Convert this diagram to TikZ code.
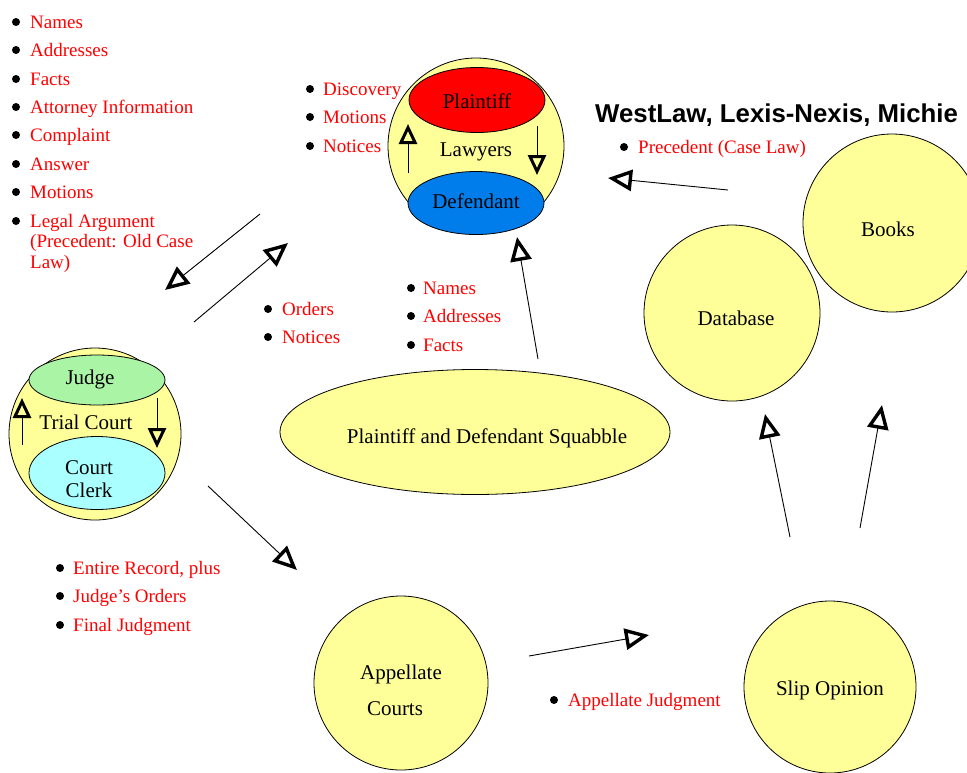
\documentclass[tikz,border=0pt]{standalone}
\usepackage{fontspec}
\setmainfont{Liberation Serif}
\newfontfamily\hdrfont{Liberation Sans}
\usetikzlibrary{arrows.meta,shapes.geometric}
\definecolor{cyellow}{RGB}{255,255,153}
\definecolor{cred}{RGB}{255,0,0}
\definecolor{cblue}{RGB}{0,125,235}
\definecolor{cgreen}{RGB}{170,245,165}
\definecolor{ccyan}{RGB}{170,255,255}
\tikzset{
  disc/.style={circle, draw, line width=0.8pt, fill=cyellow, inner sep=0pt},
  ell/.style={ellipse, draw, line width=0.8pt, inner sep=0pt},
  lbl/.style={font=\fontsize{21}{25}\selectfont, inner sep=0pt, anchor=base},
  itm/.style={text=cred, font=\fontsize{19}{20.5}\selectfont, anchor=base west, inner sep=0pt, align=left},
  dot/.style={circle, fill=black, inner sep=0pt, minimum size=8pt},
  arr/.style={line width=0.9pt, -{Triangle[open, length=24pt, width=21pt, line width=3.4pt]}},
  sarr/.style={line width=0.9pt, -{Triangle[open, length=20pt, width=18pt, line width=3pt]}}
}
\begin{document}
\begin{tikzpicture}[x=1pt, y=-1pt]
\useasboundingbox (0,0) rectangle (967,772);

% Lawyers
\node[disc, minimum size=176pt] (law) at (476,146) {};
\node[ell, fill=cred, minimum width=136pt, minimum height=65pt] (pl) at (477,100) {};
\node[ell, fill=cblue, minimum width=136pt, minimum height=63pt] (df) at (476,203) {};
\node[lbl] (plt) at (477,108) {Plaintiff};
\node[lbl] (dft) at (476,208) {Defendant};
\node[lbl] (lawt) at (476,156) {Lawyers};
\coordinate (la1) at (408,173); \coordinate (la2) at (408,124);
\coordinate (lb1) at (537,126); \coordinate (lb2) at (537,175);
\draw[sarr] (la1) -- (la2);
\draw[sarr] (lb1) -- (lb2);

% Trial Court
\node[disc, minimum size=172pt] (tc) at (95,434) {};
\node[ell, fill=cgreen, minimum width=136pt, minimum height=50pt] (jd) at (97,380) {};
\node[lbl] (jdt) at (90,384) {Judge};
\node[ell, fill=ccyan, minimum width=136pt, minimum height=73pt] (cc) at (97,473) {};
\node[lbl] (cct1) at (89,474) {Court};
\node[lbl] (cct2) at (89,497) {Clerk};
\node[lbl] (tct) at (86,429) {Trial Court};
\coordinate (ta1) at (22,445); \coordinate (ta2) at (22,398);
\coordinate (tb1) at (157,398); \coordinate (tb2) at (157,448);
\draw[sarr] (ta1) -- (ta2);
\draw[sarr] (tb1) -- (tb2);

% Other shapes
\node[ell, fill=cyellow, minimum width=390pt, minimum height=125pt] (sq) at (475,432) {};
\node[lbl] (sqt) at (487,443) {Plaintiff and Defendant Squabble};
\node[disc, minimum size=176pt] (db) at (732,313) {};
\node[lbl] (dbt) at (736,325) {Database};
\node[disc, minimum size=178pt] (bk) at (892,223) {};
\node[lbl] (bkt) at (888,236) {Books};
\node[disc, minimum size=172pt] (so) at (830,687) {};
\node[lbl] (sot) at (830,695) {Slip Opinion};
\node[disc, minimum size=174pt] (ac) at (401,683) {};
\node[lbl] (act1) at (401,679) {Appellate};
\node[lbl] (act2) at (395,715) {Courts};

% Header
\node[font=\hdrfont\bfseries\fontsize{25.8}{30}\selectfont, anchor=base west, inner sep=0pt] (hdr) at (595,122) {WestLaw, Lexis-Nexis, Michie};

% Lists
\foreach \y/\t [count=\i] in {22/Names, 50/Addresses, 79/Facts, 107/Attorney Information, 135/Complaint, 164/Answer, 192/Motions}{
  \node[dot] (ad\i) at (16,\y) {};
  \node[itm] (at\i) at (30,\y+6.3) {\t};
}
\node[dot] (ad8) at (16,221) {};
\node[itm] (at8) at (30,268.3) {Legal Argument\\(Precedent: Old Case\\Law)};

\foreach \y/\t [count=\i] in {89/Discovery, 117/Motions, 146/Notices}{
  \node[dot] (bd\i) at (310,\y) {};
  \node[itm] (bt\i) at (323,\y+6.3) {\t};
}
\foreach \y/\t [count=\i] in {309/Orders, 337/Notices}{
  \node[dot] (cd\i) at (268,\y) {};
  \node[itm] (ct\i) at (282,\y+6.3) {\t};
}
\foreach \y/\t [count=\i] in {288/Names, 316/Addresses, 345/Facts}{
  \node[dot] (dd\i) at (411,\y) {};
  \node[itm] (dt\i) at (423,\y+6.3) {\t};
}
\node[dot] (ed1) at (624,147) {};
\node[itm] (et1) at (638,153.3) {Precedent (Case Law)};
\foreach \y/\t [count=\i] in {568/{Entire Record, plus}, 596/Judge’s Orders, 625/Final Judgment}{
  \node[dot] (fd\i) at (60,\y) {};
  \node[itm] (ft\i) at (73,\y+6.3) {\t};
}
\node[dot] (gd1) at (554,700) {};
\node[itm] (gt1) at (568,706.3) {Appellate Judgment};

% Connectors
\coordinate (p1) at (260,214); \coordinate (p2) at (165,290);
\coordinate (p3) at (194,322); \coordinate (p4) at (288,243);
\coordinate (p5) at (538,359); \coordinate (p6) at (517,237);
\coordinate (p7) at (728,190); \coordinate (p8) at (608,178);
\coordinate (p9) at (208,486); \coordinate (p10) at (297,570);
\coordinate (p11) at (529,656); \coordinate (p12) at (649,635);
\coordinate (p13) at (790,537); \coordinate (p14) at (765,414);
\coordinate (p15) at (860,528); \coordinate (p16) at (882,405);
\draw[arr] (p1) -- (p2);
\draw[arr] (p3) -- (p4);
\draw[arr] (p5) -- (p6);
\draw[arr] (p7) -- (p8);
\draw[arr] (p9) -- (p10);
\draw[arr] (p11) -- (p12);
\draw[arr] (p13) -- (p14);
\draw[arr] (p15) -- (p16);
\end{tikzpicture}
\end{document}
